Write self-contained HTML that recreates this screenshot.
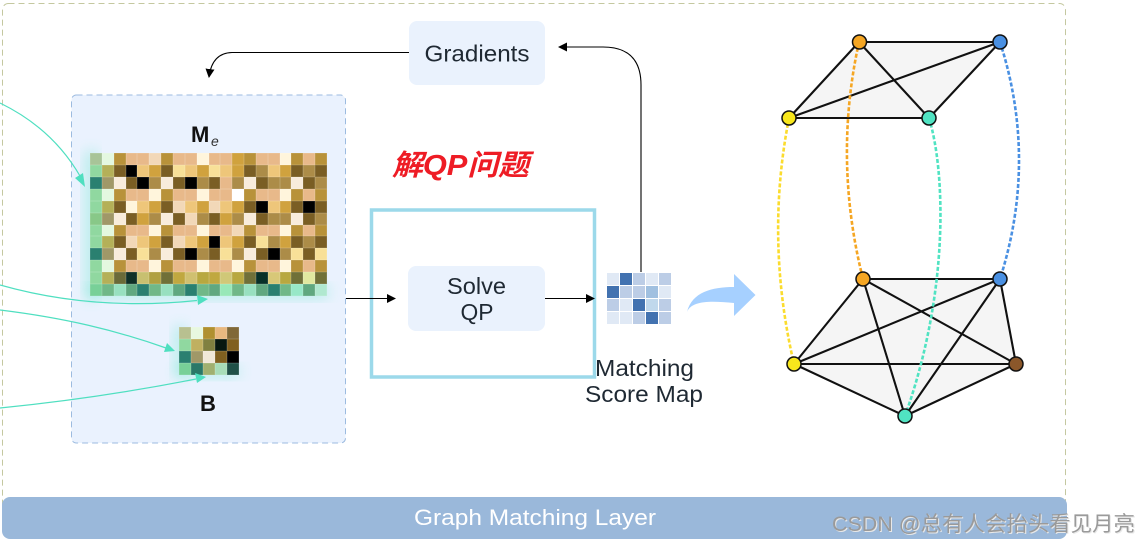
<!DOCTYPE html>
<html><head><meta charset="utf-8">
<style>
html,body{margin:0;padding:0;background:#fff;}
#w{position:relative;width:1138px;height:544px;overflow:hidden;font-family:"Liberation Sans","Noto Sans CJK SC",sans-serif;}
svg{position:absolute;left:0;top:0;}
.g{position:absolute;display:grid;gap:0;filter:blur(.35px);}
.g i{display:block;box-shadow:inset 0 0 0 .4px rgba(255,255,255,.25);}
.L{background:#e8b98a}.G{background:#b8923a}.D{background:#7a5e24}.Y{background:#d0a23e}.C{background:#f8ecdc}.K{background:#000}.S{background:#eec67a}.T{background:#ac8c48}.W{background:#fff}.P{background:#f2d8b8}.F{background:#f8e098}.c{background:#fff5dc}
.a{background:#a8c498}.b{background:#e4f8e0}.e{background:#90d8a0}.f{background:#b4b058}.t{background:#2a8070}.h{background:#a09868}.j{background:#88c888}
</style></head><body><div id="w">
<svg width="1138" height="544" viewBox="0 0 1138 544">
<defs>
<filter id="bl" x="-60%" y="-60%" width="220%" height="220%"><feGaussianBlur stdDeviation="7"/></filter>
<marker id="ak" markerWidth="11" markerHeight="11" refX="8" refY="4.500" orient="auto" markerUnits="userSpaceOnUse"><path d="M0 0L9 4.500L0 9z" fill="#000"/></marker>
</defs>
<rect x="2.500" y="3.500" width="1063" height="530" rx="6" fill="none" stroke="#c4c8a0" stroke-width="1" stroke-dasharray="6 4"/>
<rect x="71.500" y="95" width="274" height="348" rx="5" fill="#eaf2fe" stroke="#9cbbe0" stroke-width="1" stroke-dasharray="6 4"/>
<rect x="86" y="151" width="10" height="148" fill="#4fe3c2" opacity=".42" filter="url(#bl)"/>
<rect x="88" y="287" width="240" height="10" fill="#4fe3c2" opacity=".42" filter="url(#bl)"/>
<rect x="175" y="326" width="10" height="50" fill="#4fe3c2" opacity=".4" filter="url(#bl)"/>
<rect x="177" y="367" width="62" height="9" fill="#4fe3c2" opacity=".4" filter="url(#bl)"/>
<rect x="409" y="21" width="136" height="64" rx="8" fill="#eaf2fd"/>
<rect x="408" y="266" width="137" height="65" rx="8" fill="#eaf2fd"/>
<rect x="371.500" y="210" width="223" height="167" fill="none" stroke="#9cd9ea" stroke-width="3.500"/>
<rect x="2" y="497" width="1065" height="42" rx="8" fill="#9ab8da"/>
<path d="M409 52.500H232Q212 53 209 77" fill="none" stroke="#000" stroke-width="1.100" marker-end="url(#ak)"/>
<path d="M641 272V85Q641 47 603 47H559" fill="none" stroke="#000" stroke-width="1.100" marker-end="url(#ak)"/>
<path d="M346 298.500H395" fill="none" stroke="#000" stroke-width="1.100" marker-end="url(#ak)"/>
<path d="M545 298.500H594" fill="none" stroke="#000" stroke-width="1.100" marker-end="url(#ak)"/>
<path d="M687 312C692 292 712 287 734 287V274L755.500 295L734 316V303C712 301 692 300 687 312Z" fill="#a6d0ff"/>
<g fill="#f5f5f5"><polygon points="859,42 1000,42 929,118 789,118"/><polygon points="863,279 1000,279 1016,364 905,416 794,364"/></g>
<g stroke="#111" stroke-width="2.100" fill="none">
<path d="M859 42H1000M859 42L789 118M859 42L929 118M789 118L1000 42M789 118H929M929 118L1000 42"/>
<path d="M863 279H1000M863 279L794 364M863 279L905 416M863 279L1016 364M794 364L1000 279M794 364H1016M794 364L905 416M905 416L1000 279M905 416L1016 364M1000 279L1016 364"/>
</g>
<g fill="none" stroke-width="2.600" stroke-dasharray="4 2">
<path d="M789 118Q765 240 794 364" stroke="#fbdc2e"/>
<path d="M859 42Q833 160 863 279" stroke="#f5a623"/>
<path d="M929 118C945 170 950 290 905 416" stroke="#50e3c2"/>
<path d="M1000 42Q1038 160 1000 279" stroke="#4a90e2"/>
</g>
<g stroke="#111" stroke-width="1.500">
<circle cx="859.500" cy="42" r="7" fill="#f5a623"/><circle cx="1000" cy="42" r="7" fill="#4a90e2"/>
<circle cx="789" cy="118" r="7" fill="#f8e71c"/><circle cx="929" cy="118" r="7" fill="#50e3c2"/>
<circle cx="863" cy="279" r="7" fill="#f5a623"/><circle cx="1000" cy="279" r="7" fill="#4a90e2"/>
<circle cx="794" cy="364" r="7" fill="#f8e71c"/><circle cx="1016" cy="364" r="7" fill="#8b572a"/>
<circle cx="905" cy="416" r="7" fill="#50e3c2"/>
</g>
<g fill="#e0e9f5">
<rect x="607" y="273" width="12" height="12"/><rect x="620" y="273" width="12" height="12" fill="#4272b0"/><rect x="633" y="273" width="12" height="12" fill="#bccde6"/><rect x="646" y="273" width="12" height="12"/><rect x="659" y="273" width="12" height="12" fill="#bccde6"/>
<rect x="607" y="286" width="12" height="12" fill="#4272b0"/><rect x="620" y="286" width="12" height="12" fill="#bccde6"/><rect x="633" y="286" width="12" height="12" fill="#bccde6"/><rect x="646" y="286" width="12" height="12" fill="#a0c0e0"/><rect x="659" y="286" width="12" height="12"/>
<rect x="607" y="299" width="12" height="12" fill="#bccde6"/><rect x="620" y="299" width="12" height="12"/><rect x="633" y="299" width="12" height="12" fill="#4272b0"/><rect x="646" y="299" width="12" height="12" fill="#c0d8ec"/><rect x="659" y="299" width="12" height="12" fill="#bccde6"/>
<rect x="607" y="312" width="12" height="12"/><rect x="620" y="312" width="12" height="12"/><rect x="633" y="312" width="12" height="12" fill="#bccde6"/><rect x="646" y="312" width="12" height="12" fill="#4272b0"/><rect x="659" y="312" width="12" height="12" fill="#bccde6"/>
</g>
<g fill="#1f2933" font-family="'Liberation Sans',sans-serif" font-size="23" text-anchor="middle">
<text x="477" y="61.500" textLength="105" lengthAdjust="spacingAndGlyphs">Gradients</text>
<text x="476.500" y="294" textLength="59" lengthAdjust="spacingAndGlyphs">Solve</text>
<text x="477" y="320" textLength="33" lengthAdjust="spacingAndGlyphs">QP</text>
<text x="644.500" y="376" textLength="99" lengthAdjust="spacingAndGlyphs">Matching</text>
<text x="644" y="402" textLength="118" lengthAdjust="spacingAndGlyphs">Score Map</text>
</g>
<text x="191" y="142" font-family="'Liberation Sans',sans-serif" font-size="22" font-weight="bold" fill="#111">M</text>
<text x="211" y="146" font-family="'Liberation Sans',sans-serif" font-size="14" font-style="italic" fill="#333">e</text>
<text x="200" y="411" font-family="'Liberation Sans',sans-serif" font-size="22" font-weight="bold" fill="#111">B</text>
<text x="392" y="175" font-family="'Liberation Sans','Noto Sans CJK SC',sans-serif" font-size="29" font-weight="bold" font-style="italic" fill="#ee1c25" textLength="137" lengthAdjust="spacingAndGlyphs">解QP问题</text>
<text x="535" y="525" font-family="'Liberation Sans',sans-serif" font-size="22.500" fill="#fff" text-anchor="middle" textLength="242" lengthAdjust="spacingAndGlyphs">Graph Matching Layer</text>
<text x="832" y="531" font-family="'Liberation Sans','Noto Sans CJK SC',sans-serif" font-size="21" fill="#9a9a9a" textLength="303" lengthAdjust="spacingAndGlyphs" style="text-shadow:1px 1px 0 #e8e8e8">CSDN @总有人会抬头看见月亮</text>
</svg>

<div class="g" style="left:90px;top:153px;width:237px;height:143px;grid-template-columns:repeat(20,1fr);grid-template-rows:repeat(12,1fr)">
<i class="a"></i><i class="b"></i><i class="G"></i><i class="L"></i><i class="L"></i><i class="P"></i><i class="G"></i><i class="L"></i><i class="L"></i><i class="c"></i><i class="L"></i><i class="L"></i><i class="Y"></i><i class="G"></i><i class="L"></i><i class="L"></i><i class="c"></i><i class="G"></i><i class="L"></i><i class="G"></i>
<i class="e"></i><i class="f"></i><i class="D"></i><i class="K"></i><i class="S"></i><i class="Y"></i><i class="D"></i><i class="F"></i><i class="S"></i><i class="Y"></i><i class="F"></i><i class="S"></i><i class="Y"></i><i class="D"></i><i class="T"></i><i class="S"></i><i class="Y"></i><i class="D"></i><i class="T"></i><i class="D"></i>
<i class="t"></i><i class="h"></i><i class="C"></i><i class="D"></i><i class="K"></i><i class="T"></i><i class="C"></i><i class="D"></i><i class="K"></i><i class="T"></i><i class="D"></i><i class="L"></i><i class="T"></i><i class="C"></i><i class="D"></i><i class="T"></i><i class="T"></i><i class="C"></i><i class="D"></i><i class="T"></i>
<i class="e"></i><i class="b"></i><i class="G"></i><i class="L"></i><i class="L"></i><i class="c"></i><i class="G"></i><i class="L"></i><i class="L"></i><i class="c"></i><i class="L"></i><i class="L"></i><i class="W"></i><i class="G"></i><i class="L"></i><i class="L"></i><i class="c"></i><i class="G"></i><i class="L"></i><i class="G"></i>
<i class="e"></i><i class="f"></i><i class="D"></i><i class="c"></i><i class="S"></i><i class="Y"></i><i class="D"></i><i class="P"></i><i class="S"></i><i class="Y"></i><i class="P"></i><i class="S"></i><i class="Y"></i><i class="D"></i><i class="K"></i><i class="S"></i><i class="Y"></i><i class="D"></i><i class="K"></i><i class="D"></i>
<i class="j"></i><i class="h"></i><i class="C"></i><i class="D"></i><i class="Y"></i><i class="T"></i><i class="C"></i><i class="D"></i><i class="P"></i><i class="T"></i><i class="D"></i><i class="Y"></i><i class="T"></i><i class="C"></i><i class="D"></i><i class="T"></i><i class="T"></i><i class="C"></i><i class="D"></i><i class="T"></i>
<i class="e"></i><i class="b"></i><i class="G"></i><i class="L"></i><i class="L"></i><i class="c"></i><i class="G"></i><i class="L"></i><i class="L"></i><i class="c"></i><i class="L"></i><i class="L"></i><i class="P"></i><i class="G"></i><i class="L"></i><i class="L"></i><i class="c"></i><i class="G"></i><i class="L"></i><i class="G"></i>
<i class="e"></i><i class="f"></i><i class="D"></i><i class="P"></i><i class="S"></i><i class="Y"></i><i class="D"></i><i class="P"></i><i class="S"></i><i class="Y"></i><i class="K"></i><i class="S"></i><i class="Y"></i><i class="D"></i><i class="F"></i><i class="T"></i><i class="Y"></i><i class="D"></i><i class="T"></i><i class="D"></i>
<i class="t"></i><i class="h"></i><i class="C"></i><i class="D"></i><i class="F"></i><i class="T"></i><i class="C"></i><i class="D"></i><i class="K"></i><i class="T"></i><i class="D"></i><i class="F"></i><i class="T"></i><i class="C"></i><i class="D"></i><i class="K"></i><i class="T"></i><i class="F"></i><i class="D"></i><i class="F"></i>
<i class="e"></i><i class="b"></i><i class="G"></i><i class="L"></i><i class="L"></i><i class="c"></i><i class="G"></i><i class="L"></i><i class="L"></i><i class="c"></i><i class="L"></i><i class="L"></i><i class="c"></i><i class="G"></i><i class="L"></i><i class="L"></i><i class="c"></i><i class="G"></i><i class="L"></i><i class="G"></i>
<i class="e"></i><i class="f"></i><i style="background:#6a6a38"></i><i style="background:#103028"></i><i style="background:#c8c070"></i><i style="background:#b0a040"></i><i style="background:#707038"></i><i style="background:#c0a840"></i><i style="background:#d0c070"></i><i style="background:#b8a840"></i><i style="background:#c0a840"></i><i style="background:#d0c878"></i><i style="background:#b8a840"></i><i style="background:#707038"></i><i style="background:#083028"></i><i style="background:#d8c878"></i><i style="background:#b8a840"></i><i style="background:#707038"></i><i style="background:#e0e8a0"></i><i style="background:#707038"></i>
<i style="background:#78d098"></i><i style="background:#70b888"></i><i style="background:#98e0c0"></i><i style="background:#60a880"></i><i style="background:#2a8070"></i><i style="background:#70b888"></i><i style="background:#98e0c0"></i><i style="background:#60a880"></i><i style="background:#2a8070"></i><i style="background:#70b888"></i><i style="background:#60a880"></i><i style="background:#98e8b8"></i><i style="background:#70b888"></i><i style="background:#98e0c0"></i><i style="background:#60a880"></i><i style="background:#2a8070"></i><i style="background:#70b888"></i><i style="background:#98e8c8"></i><i style="background:#60a880"></i><i style="background:#b0e8d0"></i>
</div>

<div class="g" style="left:179px;top:327px;width:60px;height:48px;grid-template-columns:repeat(5,1fr);grid-template-rows:repeat(4,1fr)">
<i style="background:#b8c090"></i><i style="background:#e8f8e0"></i><i style="background:#b09030"></i><i style="background:#e8b880"></i><i style="background:#806838"></i>
<i style="background:#90d8a0"></i><i style="background:#c0b060"></i><i style="background:#808040"></i><i style="background:#081810"></i><i style="background:#806020"></i>
<i style="background:#2a8070"></i><i style="background:#a09868"></i><i style="background:#f0e8d8"></i><i style="background:#806020"></i><i style="background:#000"></i>
<i style="background:#78d098"></i><i style="background:#2a7868"></i><i style="background:#a0b070"></i><i style="background:#a8dcb8"></i><i style="background:#205048"></i>
</div>

<svg width="1138" height="544" viewBox="0 0 1138 544" style="pointer-events:none">
<g fill="none" stroke="#4fdfc0" stroke-width="1.200">
<path d="M0 103C35 120 62 145 80 176"/>
<path d="M0 285C60 302 125 308 197 300.500"/>
<path d="M0 310C65 318 115 330 166 348"/>
<path d="M0 408Q100 398 196 379"/>
</g>
<g fill="#4fdfc0">
<path d="M85 187L75 178L83 173Z"/>
<path d="M208 299L197 295L198 305Z"/>
<path d="M175 351L164 352L167 343Z"/>
<path d="M206 377L195 373L197 383Z"/>
</g>
</svg>
</div></body></html>
